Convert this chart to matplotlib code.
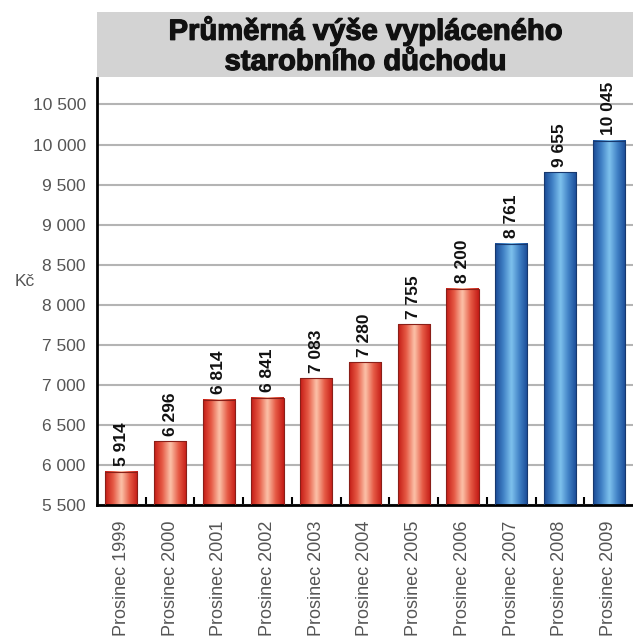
import numpy as np
import matplotlib.pyplot as plt
import matplotlib.patheffects as pe
from matplotlib.colors import LinearSegmentedColormap
from matplotlib.patches import Rectangle

plt.rcParams['font.family'] = ['Liberation Sans', 'DejaVu Sans']

# Data
roky = ['Prosinec 1999', 'Prosinec 2000', 'Prosinec 2001', 'Prosinec 2002',
        'Prosinec 2003', 'Prosinec 2004', 'Prosinec 2005', 'Prosinec 2006',
        'Prosinec 2007', 'Prosinec 2008', 'Prosinec 2009']
duchod = [5914, 6296, 6814, 6841, 7083, 7280, 7755, 8200, 8761, 9655, 10045]
modre = [False] * 8 + [True] * 3
y_ticks = [5500, 6000, 6500, 7000, 7500, 8000, 8500, 9000, 9500, 10000, 10500]


def cz(v):
    return f'{v:,}'.replace(',', ' ')


cmap_red = LinearSegmentedColormap.from_list('r', ['#c41c16', '#e65a45', '#fbbfa6'])
cmap_blue = LinearSegmentedColormap.from_list('b', ['#1a4a95', '#3f7fc4', '#7cc0ec'])
grad = 1 - np.abs(np.linspace(-1, 1, 64))[None, :]

fig = plt.figure(figsize=(6.33, 6.37), dpi=100)
ax = fig.add_axes([0.1532, 0.2072, 0.8468, 0.6703])

ymin, ymax = 5500, 10830
bw = 0.66
for i, (v, b) in enumerate(zip(duchod, modre)):
    cm = cmap_blue if b else cmap_red
    ax.imshow(grad, cmap=cm, extent=(i - bw / 2, i + bw / 2, ymin, v),
              aspect='auto', zorder=2, interpolation='bicubic')
    ax.add_patch(Rectangle((i - bw / 2, ymin), bw, v - ymin, fill=False,
                           edgecolor='#17386e' if b else '#8a1f18', lw=0.8, zorder=3))
    ax.text(i, v + 70, cz(v), rotation=90, ha='center', va='bottom',
            fontsize=12.5, fontweight='bold', color='#111111')

ax.set_xlim(-0.5, len(roky) - 0.5)
ax.set_ylim(ymin, ymax)
ax.set_yticks(y_ticks)
ax.set_yticklabels([cz(t) for t in y_ticks], fontsize=12.5, color='#555555')
ax.tick_params(axis='y', length=0, pad=8)
ax.yaxis.grid(True, color='#b4b4b4', lw=1.5, zorder=0)
ax.set_axisbelow(True)

ax.set_xticks(range(len(roky)))
ax.set_xticklabels(roky, rotation=90, fontsize=13, color='#555555', va='top')
ax.tick_params(axis='x', length=0, pad=11)
ax.set_xticks(np.arange(0.5, len(roky) - 0.5, 1), minor=True)
ax.tick_params(axis='x', which='minor', direction='in', length=6, width=1.5, color='black')

for s in ['top', 'right']:
    ax.spines[s].set_visible(False)
ax.spines['left'].set_linewidth(2)
ax.spines['bottom'].set_linewidth(2)

ax.set_ylabel('Kč', rotation=0, fontsize=12.5, color='#555555')
ax.yaxis.set_label_coords(-0.135, 0.505)

# title box
fig.patches.append(Rectangle((0.1532, 0.879), 0.8468, 0.102, transform=fig.transFigure,
                             facecolor='#d3d3d3', edgecolor='none'))
fig.text(0.577, 0.928, 'Průměrná výše vypláceného\nstarobního důchodu', ha='center', va='center',
         fontsize=21, fontweight='heavy', color='#111111', linespacing=1.1,
         path_effects=[pe.withStroke(linewidth=0.9, foreground='#111111')])

fig.savefig('out.png', dpi=100)
